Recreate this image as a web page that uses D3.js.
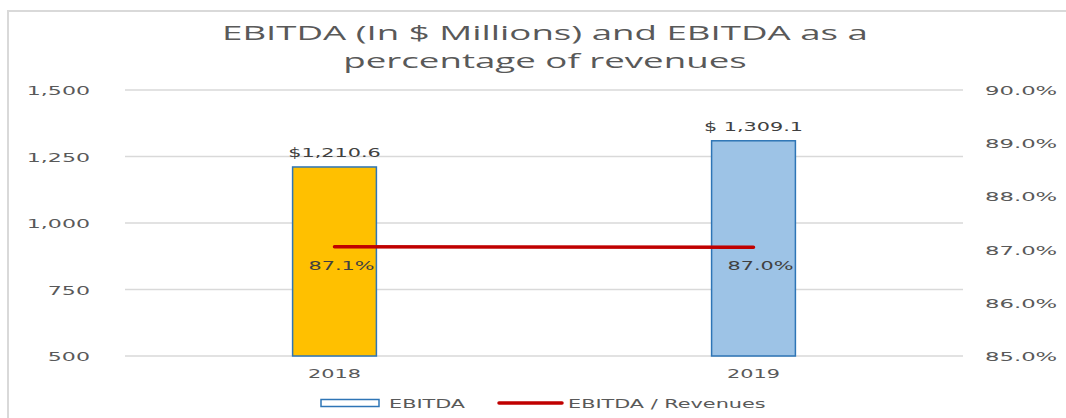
<!DOCTYPE html>
<html>
<head>
<meta charset="utf-8">
<script src="https://cdn.jsdelivr.net/npm/d3@7"></script>
<style>
  body { margin: 0; background: #fff; }
  svg { display: block; }
  text { fill: #595959; }
  .tick-label, .legend-label, .data-label { font-family: "DejaVu Sans", sans-serif; font-size: 13px; }
  .data-label { fill: #404040; }
  .title { font-family: "Open Sans", sans-serif; font-size: 19.5px; }
</style>
</head>
<body>
<svg id="chart" width="1066" height="418"></svg>
<script>
// DATA
const years = ["2018", "2019"];
const ebitda = [1210.6, 1309.1];
const ebitdaLabels = ["$1,210.6", "$ 1,309.1"];
const ebitdaPct = [0.87055, 0.87045];
const barColors = ["#FFC000", "#9DC3E6"];
const leftTicks = [500, 750, 1000, 1250, 1500];
const rightTicks = [0.85, 0.86, 0.87, 0.88, 0.89, 0.90];
const titleLines = ["EBITDA (In $ Millions) and EBITDA as a", "percentage of revenues"];
const legendNames = ["EBITDA", "EBITDA / Revenues"];

// SETUP
const margin = { top: 90, right: 103, bottom: 62, left: 125 },
    width = 1066 - margin.left - margin.right,
    height = 418 - margin.top - margin.bottom;
const sx = 1.6; // the reference text is stretched sideways

const svg = d3.select("#chart");

// chart frame
svg.append("path")
    .attr("d", "M8,418 V11 H1066")
    .attr("fill", "none")
    .attr("stroke", "#d9d9d9")
    .attr("stroke-width", 2);

const g = svg.append("g")
    .attr("transform", `translate(${margin.left},${margin.top})`);

// helper: stretched text
function stretched(sel, x, y, s = sx) {
    return sel.attr("transform", `translate(${x},${y}) scale(${s},1)`);
}

// SCALES
const x = d3.scaleBand().domain(years).range([0, width]);
const yLeft = d3.scaleLinear().domain([500, 1500]).range([height, 0]);
const yRight = d3.scaleLinear().domain([0.85, 0.90]).range([height, 0]);
const barW = x.bandwidth() * 0.2;

// gridlines
g.selectAll(".grid")
    .data(leftTicks)
    .enter()
    .append("line")
    .attr("x1", 0).attr("x2", width)
    .attr("y1", d => yLeft(d)).attr("y2", d => yLeft(d))
    .attr("stroke", "#d9d9d9")
    .attr("stroke-width", 1.5);

// left axis labels
g.selectAll(".yl")
    .data(leftTicks)
    .enter()
    .append("text")
    .attr("class", "tick-label")
    .attr("text-anchor", "end")
    .each(function (d) { stretched(d3.select(this), -35, yLeft(d) + 5, 1.7); })
    .text(d => d3.format(",")(d));

// right axis labels
g.selectAll(".yr")
    .data(rightTicks)
    .enter()
    .append("text")
    .attr("class", "tick-label")
    .each(function (d) { stretched(d3.select(this), width + 22, yRight(d) + 5, 1.75); })
    .text(d => d3.format(".1%")(d));

// category labels
g.selectAll(".xl")
    .data(years)
    .enter()
    .append("text")
    .attr("class", "tick-label")
    .attr("text-anchor", "middle")
    .each(function (d) { stretched(d3.select(this), x(d) + x.bandwidth() / 2, height + 22); })
    .text(d => d);

// BARS
g.selectAll(".bar")
    .data(years)
    .enter()
    .append("rect")
    .attr("x", d => x(d) + x.bandwidth() / 2 - barW / 2)
    .attr("y", (d, i) => yLeft(ebitda[i]))
    .attr("width", barW)
    .attr("height", (d, i) => height - yLeft(ebitda[i]))
    .attr("fill", (d, i) => barColors[i])
    .attr("stroke", "#2E75B6")
    .attr("stroke-width", 1.5);

// bar value labels
g.selectAll(".bl")
    .data(years)
    .enter()
    .append("text")
    .attr("class", "data-label")
    .attr("text-anchor", "middle")
    .each(function (d, i) { stretched(d3.select(this), x(d) + x.bandwidth() / 2, yLeft(ebitda[i]) - 10); })
    .text((d, i) => ebitdaLabels[i]);

// LINE
const line = d3.line()
    .x((d, i) => x(years[i]) + x.bandwidth() / 2)
    .y(d => yRight(d));

g.append("path")
    .datum(ebitdaPct)
    .attr("d", line)
    .attr("fill", "none")
    .attr("stroke", "#C00000")
    .attr("stroke-width", 3.5)
    .attr("stroke-linecap", "round");

// line value labels
g.selectAll(".pl")
    .data(ebitdaPct)
    .enter()
    .append("text")
    .attr("class", "data-label")
    .attr("text-anchor", "middle")
    .each(function (d, i) { stretched(d3.select(this), x(years[i]) + x.bandwidth() / 2 + 7, yRight(d) + 23); })
    .text(d => d3.format(".1%")(d));

// TITLE
const title = svg.append("g");
titleLines.forEach((t, i) => {
    const el = title.append("text")
        .attr("class", "title")
        .attr("text-anchor", "middle")
        .text(t);
    stretched(el, 545, 40 + i * 27.5, 1.88);
});

// LEGEND
const legend = svg.append("g").attr("transform", "translate(0,403)");
legend.append("rect")
    .attr("x", 321).attr("y", -3.5)
    .attr("width", 58).attr("height", 7)
    .attr("fill", "#fff")
    .attr("stroke", "#2E75B6")
    .attr("stroke-width", 1.5);
stretched(legend.append("text").attr("class", "legend-label").text(legendNames[0]), 389, 5);
legend.append("line")
    .attr("x1", 499).attr("x2", 562)
    .attr("stroke", "#C00000")
    .attr("stroke-width", 3.5)
    .attr("stroke-linecap", "round");
stretched(legend.append("text").attr("class", "legend-label").text(legendNames[1]), 568, 5);
</script>
</body>
</html>
